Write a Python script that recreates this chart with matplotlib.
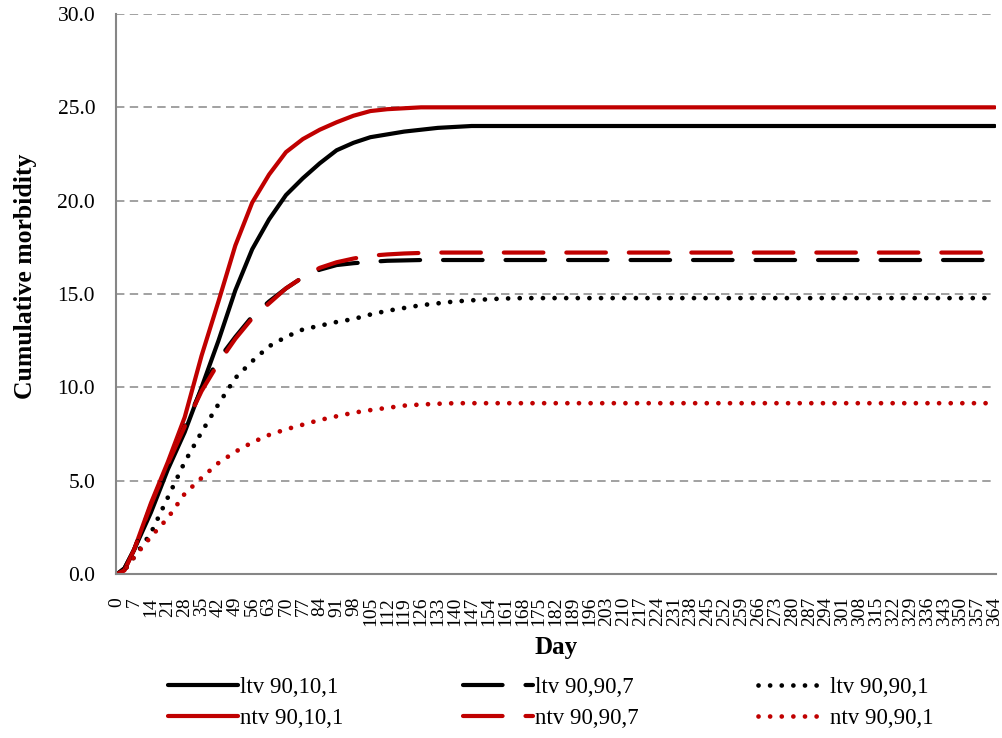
import matplotlib
matplotlib.use("Agg")
import matplotlib.pyplot as plt
from matplotlib.ticker import FormatStrFormatter

plt.rcParams['font.family'] = ['Liberation Serif', 'DejaVu Serif']

# Sample days (x values) for all series
days = [0, 3, 7, 14, 21, 28, 35, 42, 49, 56, 63, 70, 77, 84, 91, 98, 105,
        112, 119, 126, 133, 140, 147, 154, 161, 168, 175, 364]

ltv_90_10_1 = [0, 0.3, 1.3, 3.3, 5.6, 7.6, 10.0, 12.5, 15.2, 17.4, 19.0, 20.3, 21.2, 22.0,
               22.7, 23.1, 23.4, 23.55, 23.7, 23.8, 23.9, 23.95, 24.0, 24.0, 24.0, 24.0, 24.0, 24.0]
ntv_90_10_1 = [0, 0.2, 1.3, 3.8, 6.0, 8.4, 11.7, 14.6, 17.6, 19.9, 21.4, 22.6, 23.3, 23.8,
               24.2, 24.55, 24.8, 24.9, 24.95, 25.0, 25.0, 25.0, 25.0, 25.0, 25.0, 25.0, 25.0, 25.0]
ltv_90_90_7 = [0, 0.3, 1.3, 3.6, 5.8, 7.9, 9.9, 11.5, 12.7, 13.8, 14.6, 15.3, 15.9, 16.3,
               16.55, 16.65, 16.72, 16.78, 16.8, 16.82, 16.82, 16.82, 16.82, 16.82, 16.82, 16.82, 16.82, 16.82]
ntv_90_90_7 = [0, 0.2, 1.3, 3.7, 5.9, 7.9, 9.8, 11.3, 12.6, 13.7, 14.5, 15.3, 15.9, 16.4,
               16.7, 16.9, 17.05, 17.12, 17.17, 17.2, 17.22, 17.22, 17.22, 17.22, 17.22, 17.22, 17.22, 17.22]
ltv_90_90_1 = [0, 0.2, 0.9, 2.2, 4.1, 6.0, 7.6, 9.1, 10.5, 11.4, 12.2, 12.7, 13.1, 13.3,
               13.5, 13.66, 13.9, 14.1, 14.25, 14.4, 14.5, 14.6, 14.66, 14.72, 14.76, 14.78, 14.78, 14.78]
ntv_90_90_1 = [0, 0.2, 0.9, 2.0, 3.0, 4.3, 5.15, 5.95, 6.55, 7.05, 7.45, 7.75, 8.0, 8.25,
               8.45, 8.64, 8.78, 8.9, 9.02, 9.08, 9.12, 9.15, 9.15, 9.15, 9.15, 9.15, 9.15, 9.15]

tick_days = list(range(0, 365, 7))
tick_labels = [str(d) for d in tick_days]

BLACK = '#000000'
RED = '#C00000'

fig = plt.figure(figsize=(10.02, 7.38), dpi=100)
ax = fig.add_axes([116/1002, 1-574/738, 880/1002, 560/738])

lw = 3.0
dash = (0, (9.5, 5.5))
dot = (0, (0.01, 2.45))
kw = dict(solid_capstyle='round', dash_capstyle='round')

l1, = ax.plot(days, ltv_90_10_1, color=BLACK, lw=lw, ls='-', label='ltv 90,10,1', **kw)
l2, = ax.plot(days, ntv_90_10_1, color=RED, lw=lw, ls='-', label='ntv 90,10,1', **kw)
l3, = ax.plot(days, ltv_90_90_7, color=BLACK, lw=lw, ls=dash, label='ltv 90,90,7', **kw)
l4, = ax.plot(days, ntv_90_90_7, color=RED, lw=lw, ls=dash, label='ntv 90,90,7', **kw)
l5, = ax.plot(days, ltv_90_90_1, color=BLACK, lw=3.4, ls=dot, label='ltv 90,90,1', **kw)
l6, = ax.plot(days, ntv_90_90_1, color=RED, lw=3.4, ls=dot, label='ntv 90,90,1', **kw)

ax.set_xlim(-0.5, 364.5)
ax.set_ylim(0, 30)
ax.set_yticks([0, 5, 10, 15, 20, 25, 30])
ax.yaxis.set_major_formatter(FormatStrFormatter('%.1f'))
ax.set_xticks(tick_days)
ax.set_xticklabels(tick_labels, rotation=90, fontsize=14)
ax.tick_params(axis='y', labelsize=15.5, length=0, pad=15)
ax.tick_params(axis='x', length=0, pad=16.5)

ax.grid(axis='y', color='#888888', lw=1.1, ls=(0, (5.5, 3.5)))
ax.set_axisbelow(True)
for s in ['top', 'right']:
    ax.spines[s].set_visible(False)
for s in ['left', 'bottom']:
    ax.spines[s].set_color('#868686')
    ax.spines[s].set_linewidth(1.5)

ax.set_ylabel('Cumulative morbidity', fontsize=18.5, fontweight='bold')
ax.yaxis.set_label_coords(-0.09, 0.532)
ax.set_xlabel('Day', fontsize=18, fontweight='bold', labelpad=7)

leg = fig.legend(handles=[l1, l2, l3, l4, l5, l6], ncol=3, loc='center left',
                 bbox_to_anchor=(168/1002, 1-703/738), frameon=False, fontsize=16.5,
                 handlelength=3.05, handletextpad=0.1, columnspacing=5.2,
                 labelspacing=0.45, borderpad=0, borderaxespad=0)

fig.savefig('out.png', dpi=100)
